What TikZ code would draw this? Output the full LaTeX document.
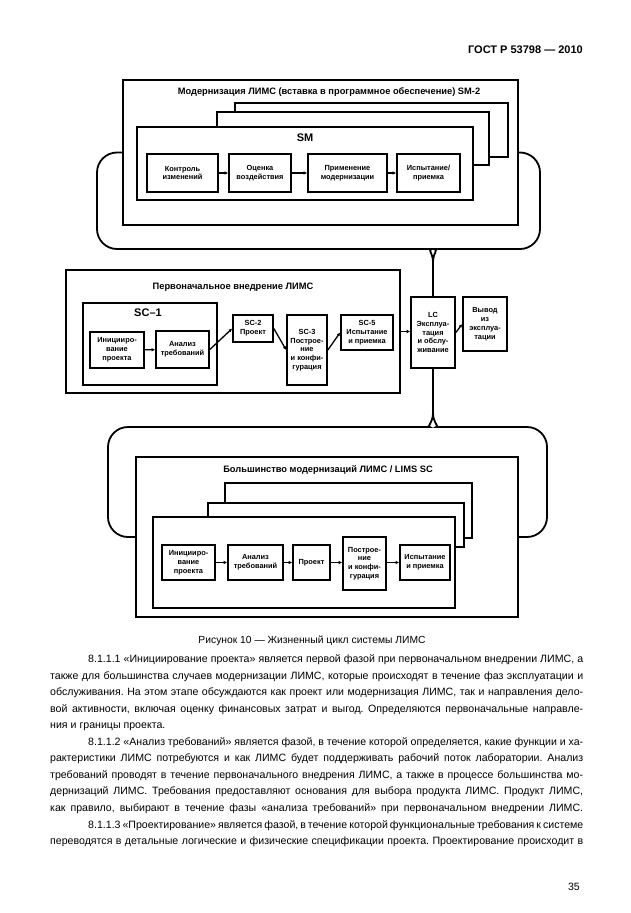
\documentclass[tikz,border=0pt]{standalone}
\usepackage{fontspec}
\setmainfont{Liberation Sans}
\usepackage{tikz}
\usetikzlibrary{arrows.meta,positioning}
\frenchspacing

\newcommand{\boxfont}{\fontsize{7.4}{8.8}\selectfont\bfseries}
\newcommand{\titlefont}{\fontsize{9.3}{11}\selectfont\bfseries}
\newcommand{\labelfont}{\fontsize{11}{13}\selectfont\bfseries}
\newcommand{\bodyfont}{\fontsize{10.6}{16.6}\selectfont}
\newcommand{\fullline}[1]{\makebox[533pt][s]{#1}}
\newcommand{\firstline}[1]{\makebox[495pt][s]{#1}}

\tikzstyle{frame} = [rectangle, draw, line width=2pt, fill=white, inner sep=0pt]
\tikzstyle{stage} = [rectangle, draw, line width=1.7pt, fill=white, inner sep=1pt, align=center, font=\boxfont]
\tikzstyle{backframe} = [draw, line width=1.7pt, fill=white]
\tikzstyle{arrow} = [line width=1.3pt, -{Latex[length=3.5pt,width=3.5pt]}]
\tikzstyle{brace} = [line width=1.8pt, rounded corners=20pt]
\tikzstyle{bodyline} = [inner sep=0pt, anchor=base west, font=\bodyfont]

\begin{document}
\begin{tikzpicture}[x=1pt,y=-1pt]
\fill[white] (0,0) rectangle (630,913);
\useasboundingbox (0,0) rectangle (630,913);

% Header
\node[inner sep=0pt, anchor=base east, font=\fontsize{11}{13}\selectfont\bfseries] (gost) at (583,53) {ГОСТ Р 53798 — 2010};

% Cusps of the braces
\coordinate (topcusp) at (433,262);
\coordinate (botcusp) at (433,413);

% Modernization frame (SM-2)
\node[frame, minimum width=395pt, minimum height=145pt] (smouter) at (320.5,152.5) {};
\node[font=\titlefont] (smtitle) at (329,92) {Модернизация ЛИМС (вставка в программное обеспечение) SM-2};
\draw[backframe] (235,103) rectangle (508,157);
\draw[backframe] (217,112) rectangle (489,165);
\node[frame, line width=1.7pt, minimum width=336pt, minimum height=73pt] (sm) at (305,163.5) {};
\node[font=\labelfont] (smlabel) at (305,138) {SM};
\node[stage, minimum width=71pt, minimum height=38pt] (change) at (182.5,173) {Контроль\\изменений};
\node[stage, minimum width=62pt, minimum height=38pt] (impact) at (260,173) {Оценка\\воздействия};
\node[stage, minimum width=79pt, minimum height=38pt] (apply) at (347.5,173) {Применение\\модернизации};
\node[stage, minimum width=63pt, minimum height=38pt] (accept) at (428.5,173) {Испытание/\\приемка};
\draw[arrow] (change) -- (impact);
\draw[arrow] (impact) -- (apply);
\draw[arrow] (apply) -- (accept);

% Initial implementation frame
\node[frame, minimum width=334pt, minimum height=123pt] (initouter) at (233,331.5) {};
\node[font=\titlefont] (inittitle) at (233,287) {Первоначальное внедрение ЛИМС};
\node[frame, minimum width=134pt, minimum height=82pt] (sc1) at (150,344) {};
\node[font=\labelfont] (sc1label) at (148,313) {SC–1};
\node[stage, minimum width=54pt, minimum height=36pt] (start) at (117,350) {Иницииро-\\вание\\проекта};
\node[stage, minimum width=53pt, minimum height=37pt] (analysis) at (182.5,349.5) {Анализ\\требований};
\node[stage, minimum width=40pt, minimum height=27pt] (sc2) at (253,328.5) {SC-2\\Проект};
\node[stage, minimum width=40pt, minimum height=70pt] (sc3) at (307,350) {SC-3\\Построе-\\ние\\и конфи-\\гурация};
\node[stage, minimum width=52pt, minimum height=35pt] (sc5) at (367,332.5) {SC-5\\Испытание\\и приемка};
\draw[arrow] (start) -- (analysis);
\draw[arrow] (analysis.east) -- (sc2.west);
\draw[arrow] (sc2.east) -- (sc3.west);
\draw[arrow] (sc3.east) -- (sc5.west);

% Operation and retirement
\node[stage, minimum width=44pt, minimum height=71pt] (lc) at (433,332.5) {LC\\Эксплуа-\\тация\\и обслу-\\живание};
\node[stage, minimum width=44pt, minimum height=54pt] (retire) at (485,324) {Вывод\\из\\эксплуа-\\тации};
\draw[arrow] (initouter.east) -- (initouter.east -| lc.west);
\draw[arrow] (lc.east) -- (retire.west);

% Braces to LC
\draw[brace] (smouter.west) -- (97,152.5) -- (97,249) -- (412,249) [sharp corners] .. controls (427,249) and (433,253) .. (topcusp);
\draw[brace] (smouter.east) -- (540,152.5) -- (540,249) -- (454,249) [sharp corners] .. controls (439,249) and (433,253) .. (topcusp);
\draw[line width=1.8pt] (topcusp) -- (lc.north);
\draw[line width=1.8pt] (lc.south) -- (botcusp);

% Most modernizations frame
\node[frame, minimum width=382pt, minimum height=160pt] (mostouter) at (327,537) {};
\node[font=\titlefont] (mosttitle) at (328,470) {Большинство модернизаций ЛИМС / LIMS SC};
\draw[brace] (mostouter.west) -- (108,537) -- (108,427) -- (410,427) [sharp corners] .. controls (426,427) and (433,423) .. (botcusp);
\draw[brace] (mostouter.east) -- (547,537) -- (547,427) -- (456,427) [sharp corners] .. controls (440,427) and (433,423) .. (botcusp);
\draw[backframe] (225,483) rectangle (472,538);
\draw[backframe] (208,503) rectangle (464,547);
\node[frame, line width=1.7pt, minimum width=302pt, minimum height=91pt] (most) at (304,562.5) {};
\node[stage, minimum width=53pt, minimum height=35pt] (mstart) at (188.5,562.5) {Иницииро-\\вание\\проекта};
\node[stage, minimum width=55pt, minimum height=35pt] (manalysis) at (255.5,562.5) {Анализ\\требований};
\node[stage, minimum width=37pt, minimum height=35pt] (mdesign) at (311.5,562.5) {Проект};
\node[stage, minimum width=43pt, minimum height=53pt] (mbuild) at (364.5,563.5) {Построе-\\ние\\и конфи-\\гурация};
\node[stage, minimum width=50pt, minimum height=35pt] (mtest) at (425,562.5) {Испытание\\и приемка};
\draw[arrow] (mstart) -- (manalysis);
\draw[arrow] (manalysis) -- (mdesign);
\draw[arrow] (mdesign) -- (mbuild.west |- mdesign);
\draw[arrow] (mbuild.east |- mtest) -- (mtest);

% Caption
\node[inner sep=0pt, anchor=base, font=\fontsize{10.3}{12}\selectfont] (caption) at (312,643.5) {Рисунок 10 — Жизненный цикл системы ЛИМС};

% Body text
\node[bodyline] (l1) at (88,662.5) {\firstline{8.1.1.1 «Инициирование проекта» является первой фазой при первоначальном внедрении ЛИМС, а}};
\node[bodyline] (l2) at (50,679.0) {\fullline{также для большинства случаев модернизации ЛИМС, которые происходят в течение фаз эксплуатации и}};
\node[bodyline] (l3) at (50,695.6) {\fullline{обслуживания. На этом этапе обсуждаются как проект или модернизация ЛИМС, так и направления дело-}};
\node[bodyline] (l4) at (50,712.1) {\fullline{вой активности, включая оценку финансовых затрат и выгод. Определяются первоначальные направле-}};
\node[bodyline] (l5) at (50,728.7) {ния и границы проекта.};
\node[bodyline] (l6) at (88,745.2) {\firstline{8.1.1.2 «Анализ требований» является фазой, в течение которой определяется, какие функции и ха-}};
\node[bodyline] (l7) at (50,761.8) {\fullline{рактеристики ЛИМС потребуются и как ЛИМС будет поддерживать рабочий поток лаборатории. Анализ}};
\node[bodyline] (l8) at (50,778.3) {\fullline{требований проводят в течение первоначального внедрения ЛИМС, а также в процессе большинства мо-}};
\node[bodyline] (l9) at (50,794.9) {\fullline{дернизаций ЛИМС. Требования предоставляют основания для выбора продукта ЛИМС. Продукт ЛИМС,}};
\node[bodyline] (l10) at (50,811.4) {\fullline{как правило, выбирают в течение фазы «анализа требований» при первоначальном внедрении ЛИМС.}};
\node[bodyline] (l11) at (88,828.0) {\firstline{8.1.1.3 «Проектирование» является фазой, в течение которой функциональные требования к системе}};
\node[bodyline] (l12) at (50,844.5) {\fullline{переводятся в детальные логические и физические спецификации проекта. Проектирование происходит в}};

% Page number
\node[inner sep=0pt, anchor=base east, font=\bodyfont] (pagenum) at (580,890) {35};
\end{tikzpicture}
\end{document}
